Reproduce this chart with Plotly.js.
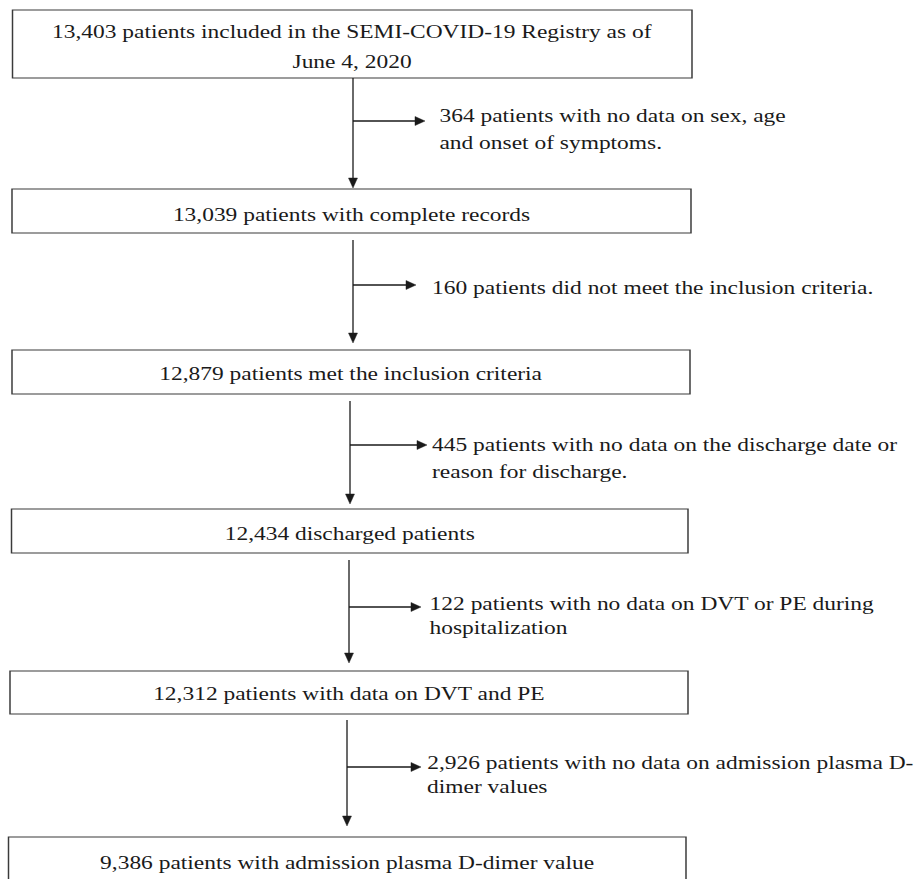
<!DOCTYPE html>
<html>
<head>
<meta charset="utf-8">
<script src="https://cdn.plot.ly/plotly-3.0.1.min.js"></script>
<style>
  html, body { margin: 0; padding: 0; background: #ffffff; overflow: hidden; }
  #wrap { width: 917px; height: 879px; overflow: hidden; }
  #chart { height: 879px; transform-origin: 0 0; }
</style>
</head>
<body>
<div id="wrap"><div id="chart"></div></div>
<script>
// ---- Data ----
const stageCounts = [13403, 13039, 12879, 12434, 12312, 9386];
const stageTexts = [
  "patients included in the SEMI-COVID-19 Registry as of<br>June 4, 2020",
  "patients with complete records",
  "patients met the inclusion criteria",
  "discharged patients",
  "patients with data on DVT and PE",
  "patients with admission plasma D-dimer value"
];
const excludedCounts = [364, 160, 445, 122, 2926];
const excludedTexts = [
  "patients with no data on sex, age<br>and onset of symptoms.",
  "patients did not meet the inclusion criteria.",
  "patients with no data on the discharge date or<br>reason for discharge.",
  "patients with no data on DVT or PE during<br>hospitalization",
  "patients with no data on admission plasma D-<br>dimer values"
];

// ---- Layout geometry (reference pixels) ----
const W = 917, H = 879;
const SX = 1.235;                // horizontal stretch of the original figure
const PW = Math.round(W / SX);   // drawing width before the stretch
const FS = 19;
const FONT = "Liberation Serif, Times New Roman, serif";
const TXT = "#1a1a1a";
const LC = "#1a1a1a";
const boxTop = [10, 189, 350, 509, 671, 837];
const boxBot = [78, 233, 394, 553, 714, 900];
const boxLeft = [12.5, 12, 12, 11.5, 10, 8.5];
const boxRight = [692, 691, 690, 688, 688, 686];
const boxLineY = [[31, 61], [214], [373], [533], [693], [862]];
const vX = [353, 353, 350, 349, 347];
const vStart = [78, 240, 401, 560, 720];
const vTip = [188, 343, 504, 663, 826];
const hY = [121, 285, 445, 607, 767];
const hTip = [425, 416, 427, 421, 421];
const exX = [437, 429, 430, 427, 424];
const exLineY = [[115, 142], [287], [444, 471], [603, 627], [762, 786]];

const fmt = n => n.toLocaleString('en-US');
const shapes = [];
const annotations = [];

stageCounts.forEach((c, i) => {
  shapes.push({type: 'rect', xref: 'x', yref: 'y', x0: boxLeft[i], x1: boxRight[i], y0: boxTop[i], y1: boxBot[i],
    line: {color: "#3a3a3a", width: 1.2}, fillcolor: 'rgba(0,0,0,0)'});
  const lines = (fmt(c) + " " + stageTexts[i]).split("<br>");
  lines.forEach((t, k) => {
    annotations.push({xref: 'x', yref: 'y', x: (boxLeft[i] + boxRight[i]) / 2, y: boxLineY[i][k], text: t,
      showarrow: false, xanchor: 'center', yanchor: 'middle', font: {family: FONT, size: FS, color: TXT}});
  });
});

excludedCounts.forEach((c, i) => {
  shapes.push({type: 'line', xref: 'x', yref: 'y', x0: vX[i], x1: vX[i], y0: vStart[i], y1: vTip[i] - 8,
    line: {color: LC, width: 1.05}});
  shapes.push({type: 'path', xref: 'x', yref: 'y',
    path: `M ${vX[i] - 4.5} ${vTip[i] - 10} L ${vX[i] + 4.5} ${vTip[i] - 10} L ${vX[i]} ${vTip[i]} Z`,
    line: {color: LC, width: 0.4}, fillcolor: LC});
  shapes.push({type: 'line', xref: 'x', yref: 'y', x0: vX[i], x1: hTip[i] - 8, y0: hY[i], y1: hY[i],
    line: {color: LC, width: 1.3}});
  shapes.push({type: 'path', xref: 'x', yref: 'y',
    path: `M ${hTip[i] - 10} ${hY[i] - 4.5} L ${hTip[i] - 10} ${hY[i] + 4.5} L ${hTip[i]} ${hY[i]} Z`,
    line: {color: LC, width: 0.4}, fillcolor: LC});
  const lines = (fmt(c) + " " + excludedTexts[i]).split("<br>");
  lines.forEach((t, k) => {
    annotations.push({xref: 'x', yref: 'y', x: exX[i], y: exLineY[i][k], text: t,
      showarrow: false, xanchor: 'left', yanchor: 'middle', font: {family: FONT, size: FS, color: TXT}});
  });
});

const chart = document.getElementById('chart');
chart.style.width = PW + 'px';
chart.style.transform = `scaleX(${W / PW})`;

const layout = {
  width: PW, height: H,
  margin: {l: 0, r: 0, t: 0, b: 0},
  paper_bgcolor: '#ffffff', plot_bgcolor: '#ffffff',
  xaxis: {range: [0, W], visible: false, fixedrange: true},
  yaxis: {range: [H, 0], visible: false, fixedrange: true},
  showlegend: false,
  shapes: shapes,
  annotations: annotations
};

Plotly.newPlot('chart', [], layout, {displayModeBar: false, staticPlot: true});
</script>
</body>
</html>
